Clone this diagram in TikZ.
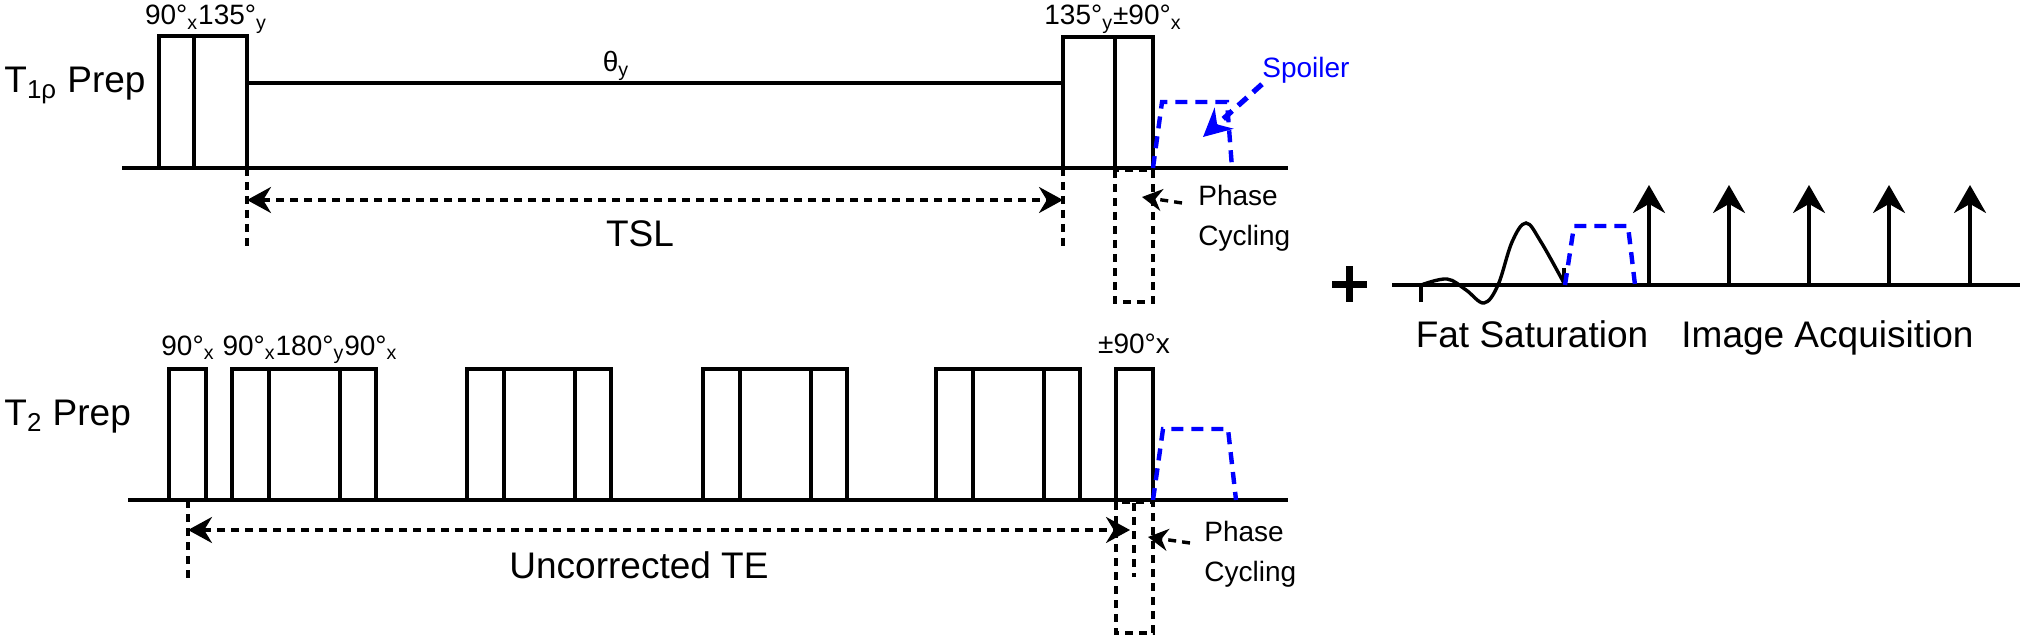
\documentclass[tikz,border=0pt]{standalone}
\usepackage{fontspec}
\setmainfont{Liberation Sans}
\usepackage{xcolor}
\usepackage{tikz}
\usetikzlibrary{arrows.meta, positioning, calc}
\definecolor{spoil}{HTML}{0000FF}

\begin{document}
\begin{tikzpicture}[x=0.5pt, y=-0.5pt,
    axis/.style={line width=2pt},
    pulse/.style={line width=1.7pt},
    guide/.style={line width=1.7pt, dash pattern=on 4pt off 3pt},
    span/.style={guide, {Stealth[length=12pt,width=13pt]}-{Stealth[length=12pt,width=13pt]}},
    hint/.style={guide, -{Stealth[length=10pt,width=11pt]}},
    grad/.style={spoil, line width=2.2pt, dash pattern=on 6pt off 4pt},
    readout/.style={line width=1.7pt, -{Stealth[length=14pt,width=16pt]}},
    tag/.style={font=\fontsize{14}{20}\selectfont, inner sep=0pt},
    title/.style={font=\fontsize{18.5}{22}\selectfont, inner sep=0pt}
  ]
    \useasboundingbox (0,0) rectangle (2022,636);

    % T1rho prep
    \draw[axis] (122,168) -- (1288,168);
    \draw[pulse] (159,168) rectangle (247,36) (194,168) -- (194,36);
    \draw[pulse] (247,83) -- (1063,83);
    \draw[pulse] (1063,168) rectangle (1153,37) (1115,168) -- (1115,37);
    \draw[grad] (1153,168) -- (1162,102) -- (1227,102) -- (1232,168);
    \coordinate (SLa) at (247,168);
    \coordinate (SLb) at (1063,168);
    \draw[guide] (SLa) -- ++(0,79);
    \draw[guide] (SLb) -- ++(0,79);
    \draw[span] ($(SLa)+(0,32)$) -- ($(SLb)+(0,32)$);
    \draw[guide] (1115,170) rectangle (1153,302);

    \node[title, anchor=base west] (T1R) at (4,93) {T\textsubscript{1ρ} Prep};
    \node[tag, anchor=base] (P1a) at (206,25) {90°\textsubscript{x}135°\textsubscript{y}};
    \node[tag, anchor=base] (P1b) at (1113,25) {135°\textsubscript{y}±90°\textsubscript{x}};
    \node[tag, anchor=base] (SL) at (616,72) {θ\textsubscript{y}};
    \node[title, anchor=base] (TSL) at (640,247) {TSL};
    \node[tag, anchor=base west, text=spoil] (SP) at (1262,78) {Spoiler};
    \node[tag, anchor=base west, align=left] (PC1) at (1198,245) {Phase\\Cycling};
    \coordinate (SPt) at (1203,137);
    \coordinate (PC1a) at (1182,203);
    \coordinate (PC1t) at (1142,197);
    \draw[grad, line width=2.6pt, -{Stealth[length=14pt,width=14pt]}] (SP.south west) -- (SPt);
    \draw[hint] (PC1a) -- (PC1t);

    % T2 prep
    \draw[axis] (128,500) -- (1288,500);
    \draw[pulse] (169,500) rectangle (206,369);
    \foreach \L in {232,467,703,936} {
      \draw[pulse] (\L,500) rectangle (\L+144,369);
      \draw[pulse] (\L+37,500) -- (\L+37,369) (\L+108,500) -- (\L+108,369);
    }
    \draw[pulse] (1116,500) rectangle (1153,369);
    \draw[grad] (1153,500) -- (1163,429) -- (1228,429) -- (1236,500);
    \coordinate (TEa) at (188,500);
    \coordinate (TEb) at (1134,503);
    \draw[guide] (TEa) -- ++(0,78);
    \draw[guide] (TEb) -- ++(0,74);
    \draw[guide] (1116,502) rectangle (1153,633);
    \draw[span] ($(TEa)+(0,30)$) -- ($(TEb)+(-4,27)$);

    \node[title, anchor=base west] (T2) at (4,425) {T\textsubscript{2} Prep};
    \node[tag, anchor=base] (P2a) at (188,355) {90°\textsubscript{x}};
    \node[tag, anchor=base] (P2b) at (310,355) {90°\textsubscript{x}180°\textsubscript{y}90°\textsubscript{x}};
    \node[tag, anchor=base] (P2c) at (1134,353) {±90°x};
    \node[title, anchor=base] (TE) at (639,578) {Uncorrected TE};
    \node[tag, anchor=base west, align=left] (PC2) at (1204,581) {Phase\\Cycling};
    \coordinate (PC2a) at (1190,543);
    \coordinate (PC2t) at (1148,537);
    \draw[hint] (PC2a) -- (PC2t);

    % fat sat + readout
    \draw[line width=3.5pt] (1332,284) -- (1367,284) (1349,266) -- (1349,302);
    \draw[axis] (1392,285) -- (2020,285);
    \draw[pulse] (1421,302) -- (1421,285);
    \draw[pulse] plot[smooth, tension=0.6] coordinates {(1421,285) (1447,279) (1466,290) (1484,303) (1498,285) (1512,242) (1526,223) (1541,242) (1565,285)};
    \draw[pulse] (1564,268) -- (1564,285);
    \draw[grad] (1565,285) -- (1574,226) -- (1628,226) -- (1635,285);
    \foreach \x in {1649,1729,1809,1889,1970}
      \draw[readout] (\x,285) -- (\x,185);
    \node[title, anchor=base] (FS) at (1532,347) {Fat Saturation};
    \node[title, anchor=base west] (IA) at (1681,347) {Image Acquisition};
\end{tikzpicture}
\end{document}
